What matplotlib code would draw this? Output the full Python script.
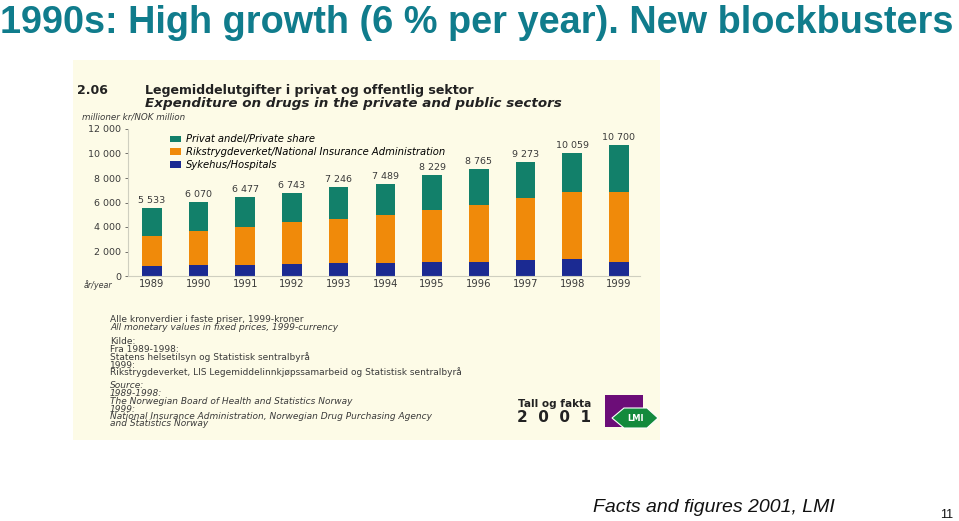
import matplotlib

matplotlib.use("Agg")
import matplotlib.pyplot as plt
from matplotlib.patches import Rectangle, Polygon

plt.rcParams["font.family"] = ["Liberation Sans", "DejaVu Sans"]
PANEL_FONT = "DejaVu Sans"

# ---------------------------------------------------------------------------
# Data (millioner kr / NOK million, fixed 1999 prices)
# ---------------------------------------------------------------------------
years = [1989, 1990, 1991, 1992, 1993, 1994, 1995, 1996, 1997, 1998, 1999]
hospitals = [780, 890, 920, 970, 1030, 1080, 1110, 1110, 1310, 1390, 1110]
nia_top = [3280, 3670, 4030, 4390, 4690, 4940, 5390, 5780, 6360, 6890, 6860]
totals = [5533, 6070, 6477, 6743, 7246, 7489, 8229, 8765, 9273, 10059, 10700]
nia = [t - h for t, h in zip(nia_top, hospitals)]
private = [tot - t for tot, t in zip(totals, nia_top)]
total_labels = ["5 533", "6 070", "6 477", "6 743", "7 246", "7 489",
                "8 229", "8 765", "9 273", "10 059", "10 700"]
y_ticks = [0, 2000, 4000, 6000, 8000, 10000, 12000]
y_tick_labels = ["0", "2 000", "4 000", "6 000", "8 000", "10 000", "12 000"]
legend_labels = ["Privat andel/Private share",
                 "Rikstrygdeverket/National Insurance Administration",
                 "Sykehus/Hospitals"]

note_lines = [
    ("Alle kronverdier i faste priser, 1999-kroner", "normal"),
    ("All monetary values in fixed prices, 1999-currency", "italic"),
    ("Kilde:", "normal"),
    ("Fra 1989-1998:", "normal"),
    ("Statens helsetilsyn og Statistisk sentralbyrå", "normal"),
    ("1999:", "normal"),
    ("Rikstrygdeverket, LIS Legemiddelinnkjøpssamarbeid og Statistisk sentralbyrå", "normal"),
    ("Source:", "italic"),
    ("1989-1998:", "italic"),
    ("The Norwegian Board of Health and Statistics Norway", "italic"),
    ("1999:", "italic"),
    ("National Insurance Administration, Norwegian Drug Purchasing Agency", "italic"),
    ("and Statistics Norway", "italic"),
]
note_y = [320, 328, 342, 350, 357.5, 365, 372.5, 386, 394, 401.5, 409, 416.5, 424]

GREEN = "#12806a"
ORANGE = "#f08a0a"
NAVY = "#1b2a92"
CREAM = "#fdfbe7"
TEAL = "#107c8c"
INK = "#3a3a3a"

W, H = 959, 521
fig = plt.figure(figsize=(W / 100, H / 100), dpi=100)
fig.patch.set_facecolor("white")


def fx(px):
    return px / W


def fy(py):
    return 1 - py / H


# slide title
fig.text(fx(0), fy(33), "1990s: High growth (6 % per year). New blockbusters",
         fontsize=27.3, fontweight="bold", color=TEAL, ha="left", va="baseline")

# cream picture panel
panel = fig.add_axes([fx(73), fy(440), fx(660 - 73), fy(60) - fy(440)])
panel.set_facecolor(CREAM)
panel.set_xticks([])
panel.set_yticks([])
for s in panel.spines.values():
    s.set_visible(False)
panel.set_xlim(73, 660)
panel.set_ylim(440, 60)

panel.text(77, 94, "2.06", fontsize=9, fontweight="bold", color="#222222",
           va="baseline", family=PANEL_FONT)
panel.text(145, 94, "Legemiddelutgifter i privat og offentlig sektor",
           fontsize=9.1, fontweight="bold", color="#222222", va="baseline", family=PANEL_FONT)
panel.text(145, 106.5, "Expenditure on drugs in the private and public sectors",
           fontsize=9.7, fontweight="bold", style="italic", color="#222222",
           va="baseline", family=PANEL_FONT)
panel.text(82, 119, "millioner kr/NOK million", fontsize=6.3, style="italic",
           color=INK, va="baseline", family=PANEL_FONT)

for (line, st), yy in zip(note_lines, note_y):
    panel.text(110, yy, line, fontsize=6.5, style=st, color=INK, va="center", family=PANEL_FONT)

panel.text(518, 404, "Tall og fakta", fontsize=7.6, fontweight="bold", color="#222222",
           va="center", family=PANEL_FONT)
panel.text(517, 417, "2  0  0  1", fontsize=11, fontweight="bold", color="#222222",
           va="center", family=PANEL_FONT)
panel.add_patch(Rectangle((605, 395), 38, 32, facecolor="#6c0d78", edgecolor="none"))
panel.add_patch(Polygon([(612, 418), (624, 408), (647, 408), (658, 418), (647, 428), (624, 428)],
                        closed=True, facecolor="#138a3c", edgecolor="white", lw=0.8))
panel.text(635, 418.5, "LMI", fontsize=6, fontweight="bold", color="white",
           ha="center", va="center", family=PANEL_FONT)

# bar chart
ax = fig.add_axes([fx(128), fy(276), fx(640 - 128), fy(129) - fy(276)])
ax.set_facecolor(CREAM)
ax.bar(years, hospitals, width=0.42, color=NAVY, label=legend_labels[2])
ax.bar(years, nia, width=0.42, bottom=hospitals, color=ORANGE, label=legend_labels[1])
ax.bar(years, private, width=0.42, bottom=nia_top, color=GREEN, label=legend_labels[0])
for x, t, lab in zip(years, totals, total_labels):
    ax.text(x, t + 250, lab, fontsize=6.8, ha="center", va="bottom", color=INK, family=PANEL_FONT)

ax.set_xlim(1988.49, 1999.45)
ax.set_ylim(0, 12000)
ax.set_yticks(y_ticks)
ax.set_yticklabels(y_tick_labels, family=PANEL_FONT)
ax.set_xticks(years)
ax.set_xticklabels([str(y) for y in years], family=PANEL_FONT)
ax.tick_params(axis="both", labelsize=6.8, colors=INK, length=2, width=0.5, pad=3)
ax.tick_params(axis="x", length=0, labelsize=7.2, pad=2)
for side in ("top", "right"):
    ax.spines[side].set_visible(False)
for side in ("left", "bottom"):
    ax.spines[side].set_color("#cfcfc0")
    ax.spines[side].set_linewidth(0.8)
fig.text(fx(84), fy(285), "år/year", fontsize=5.8, style="italic", color=INK,
         va="center", family=PANEL_FONT)

handles, labels = ax.get_legend_handles_labels()
ax.legend(handles[::-1], labels[::-1], loc="upper left", bbox_to_anchor=(0.065, 1.025),
          frameon=False, handlelength=1.1, handleheight=0.6,
          labelspacing=0.28, handletextpad=0.5,
          prop={"style": "italic", "size": 7.2, "family": PANEL_FONT})

# footer
fig.text(fx(593), fy(512), "Facts and figures 2001, LMI", fontsize=14, style="italic",
         color="#111111", va="baseline")
fig.text(fx(940), fy(518), "11", fontsize=9, color="#111111", va="baseline")

fig.savefig("out.png", dpi=100, facecolor="white")
